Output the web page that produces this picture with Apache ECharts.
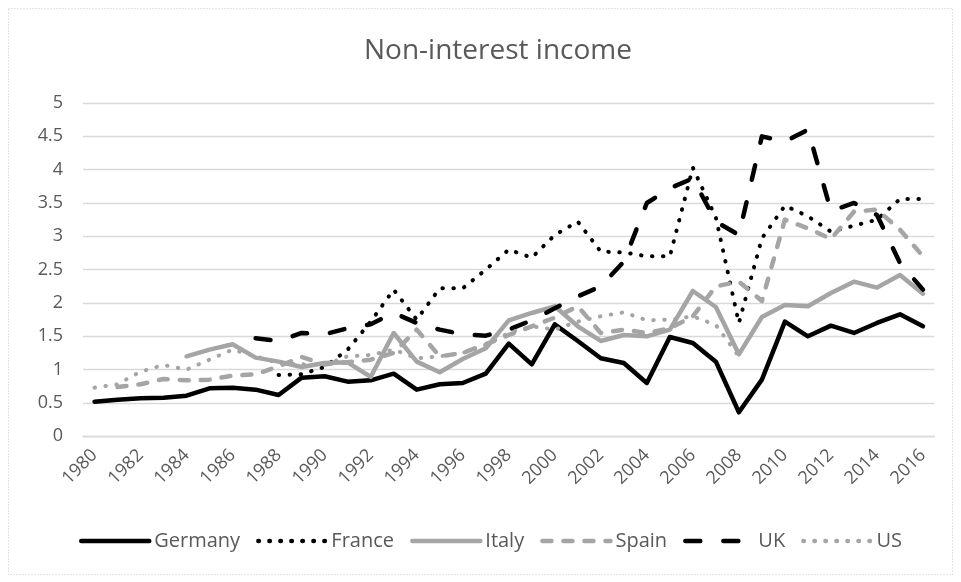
<!DOCTYPE html>
<html>
<head>
<meta charset="utf-8">
<script src="https://cdn.jsdelivr.net/npm/echarts@6/dist/echarts.min.js"></script>
<style>
html,body{margin:0;padding:0;background:#fff;}
#chart{width:961px;height:582px;}
</style>
</head>
<body>
<div id="chart"></div>
<script>
var years = [];
for (var y = 1980; y <= 2016; y++) years.push(String(y));

var germany = [0.52,0.55,0.57,0.58,0.61,0.72,0.73,0.70,0.62,0.88,
               0.90,0.82,0.84,0.94,0.70,0.78,0.80,0.94,1.39,1.08,
               1.68,1.43,1.17,1.10,0.80,1.49,1.40,1.12,0.36,0.85,
               1.72,1.50,1.66,1.55,1.70,1.83,1.65];
var france = [null,null,null,null,null,null,null,null,0.92,0.93,
              1.04,1.30,1.72,2.20,1.75,2.22,2.22,2.50,2.80,2.68,
              3.02,3.22,2.77,2.76,2.70,2.70,4.03,3.28,1.70,2.97,
              3.46,3.30,3.07,3.16,3.25,3.56,3.56];
var italy = [null,null,null,null,1.20,1.30,1.38,1.18,1.12,1.04,
             1.10,1.11,0.89,1.55,1.12,0.96,1.16,1.32,1.74,1.85,
             1.95,1.65,1.43,1.52,1.50,1.60,2.18,1.94,1.23,1.79,
             1.97,1.95,2.15,2.32,2.23,2.42,2.14];
var spain = [null,0.74,0.78,0.86,0.84,0.85,0.91,0.93,1.05,1.19,
             1.08,1.11,1.15,1.25,1.60,1.20,1.25,1.38,1.52,1.65,
             1.78,1.95,1.55,1.60,1.55,1.62,1.80,2.25,2.32,2.03,
             3.25,3.12,2.96,3.37,3.40,3.10,2.70];
var uk = [null,null,null,null,null,null,null,1.47,1.43,1.55,
          1.53,1.62,1.68,1.85,1.70,1.60,1.53,1.51,1.60,1.74,
          1.92,2.10,2.25,2.62,3.50,3.72,3.87,3.22,3.02,4.50,
          4.42,4.60,3.38,3.50,3.32,2.60,2.20];
var us = [0.73,0.78,0.97,1.07,1.00,1.15,1.30,1.20,1.10,1.08,
          1.07,1.20,1.22,1.30,1.17,1.20,1.25,1.37,1.55,1.65,
          1.60,1.72,1.80,1.86,1.74,1.75,1.80,1.67,1.20,null,
          null,null,null,null,null,null,null];
var yTicks = [0,0.5,1,1.5,2,2.5,3,3.5,4,4.5,5];

var BLACK = '#000000', GREY = '#a5a5a5', TXT = '#595959';
var FONT = 'Open Sans';

function mk(name, data, color, type, width) {
  return {
    name: name, type: 'line', data: data, symbol: 'none', showSymbol: false,
    connectNulls: false, smooth: false, animation: false,
    lineStyle: { color: color, width: width, type: type, cap: 'round', join: 'round' },
    itemStyle: { color: color },
    emphasis: { disabled: true }
  };
}

var chart = echarts.init(document.getElementById('chart'), null, { renderer: 'canvas' });
chart.setOption({
  animation: false,
  backgroundColor: '#ffffff',
  title: {
    text: 'Non-interest income', left: 359, top: 32,
    textStyle: { fontFamily: FONT, fontSize: 28, fontWeight: 'normal', color: TXT }
  },
  graphic: [{
    type: 'rect', shape: { x: 8.5, y: 8.5, width: 944, height: 566 },
    style: { fill: 'none', stroke: '#c8c8c8', lineWidth: 1, lineDash: [1, 2] }, silent: true
  }],
  grid: { left: 83, right: 26.5, top: 103, bottom: 145.7, containLabel: false },
  legend: {
    bottom: 26, left: 74, itemWidth: 68, itemHeight: 14, itemGap: 16,
    itemStyle: { opacity: 0 },
    lineStyle: { width: 4.5, cap: 'round' },
    textStyle: { fontFamily: FONT, fontSize: 20, color: TXT },
    data: ['Germany', 'France', 'Italy', 'Spain', 'UK', 'US']
  },
  xAxis: {
    type: 'category', data: years, boundaryGap: true,
    axisTick: { show: false },
    axisLine: { show: true, lineStyle: { color: '#d9d9d9', width: 1.3 } },
    axisLabel: { interval: 1, rotate: 45, fontFamily: FONT, fontSize: 18, color: TXT, margin: 16 },
    splitLine: { show: false }
  },
  yAxis: {
    type: 'value', min: 0, max: 5, interval: 0.5,
    axisLine: { show: false }, axisTick: { show: false },
    axisLabel: { fontFamily: FONT, fontSize: 18, color: TXT, margin: 20,
      formatter: function (v) { return yTicks.indexOf(v) >= 0 ? String(v) : ''; } },
    splitLine: { lineStyle: { color: '#d9d9d9', width: 1.3 } }
  },
  series: [
    mk('Germany', germany, BLACK, 'solid', 4.5),
    mk('France', france, BLACK, [0.5, 10.5], 4),
    mk('Italy', italy, GREY, 'solid', 4.5),
    mk('Spain', spain, GREY, [9, 12], 4.5),
    mk('UK', uk, BLACK, [15, 23], 4.5),
    mk('US', us, GREY, [0.5, 10.5], 4)
  ]
});
</script>
</body>
</html>
